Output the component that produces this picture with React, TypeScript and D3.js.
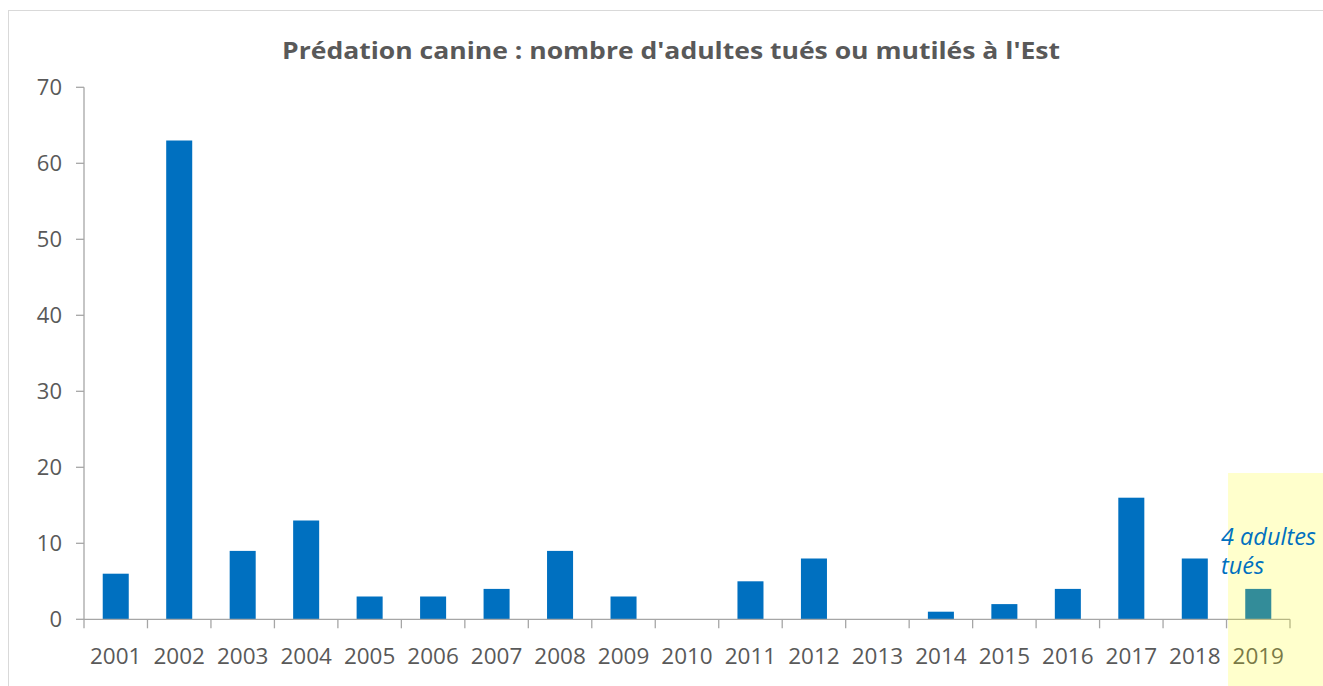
import React from "react";
import * as d3 from "d3";

const years = ["2001","2002","2003","2004","2005","2006","2007","2008","2009","2010","2011","2012","2013","2014","2015","2016","2017","2018","2019"];
const values = [6, 63, 9, 13, 3, 3, 4, 9, 3, 0, 5, 8, 0, 1, 2, 4, 16, 8, 4];
const yTicks = [0, 10, 20, 30, 40, 50, 60, 70];
const title = "Prédation canine : nombre d'adultes tués ou mutilés à l'Est";
const noteLines = ["4 adultes", "tués"];
const highlightYear = "2019";

const W = 1323, H = 686;
const left = 84, right = 1290, top = 87.3, bottom = 619.3;
const gray = "#595959";
const axisCol = "#A6A6A6";
const blue = "#0070C0";
const font = "'Open Sans', 'Liberation Sans', sans-serif";

export default function App() {
  const x = d3.scaleBand<string>().domain(years).range([left, right]).padding(0);
  const y = d3.scaleLinear().domain([0, 70]).range([bottom, top]);
  const bw = x.bandwidth() * 0.41;
  const hx = x(highlightYear)! + 1.5;

  return (
    <svg width={W} height={H} style={{ position: "absolute", left: 0, top: 0, background: "#fff" }}>
      <rect x={8.5} y={10.5} width={W} height={H} fill="#fff" stroke="#D9D9D9" strokeWidth={1} />
      <text x={671} y={59} textAnchor="middle" fontFamily={font} fontWeight="bold" fontSize={24} fill={gray}
        textLength={778} lengthAdjust="spacingAndGlyphs">{title}</text>
      {yTicks.map(t => (
        <g key={t}>
          <line x1={76} x2={left} y1={y(t)} y2={y(t)} stroke={axisCol} strokeWidth={1.3} />
          <text x={62} y={y(t) + 8} textAnchor="end" fontFamily={font} fontSize={22} fill={gray}>{t}</text>
        </g>
      ))}
      <line x1={left} x2={left} y1={top} y2={bottom} stroke={axisCol} strokeWidth={1.3} />
      {values.map((v, i) => (
        <rect key={years[i]} x={x(years[i])! + (x.bandwidth() - bw) / 2} y={y(v)} width={bw} height={y(0) - y(v)} fill={blue} />
      ))}
      <line x1={left} x2={right} y1={bottom} y2={bottom} stroke={axisCol} strokeWidth={1.3} />
      {years.map((yr, i) => (
        <line key={"t" + yr} x1={x(yr)!} x2={x(yr)!} y1={bottom} y2={bottom + 9} stroke={axisCol} strokeWidth={1.3} />
      ))}
      <line x1={right} x2={right} y1={bottom} y2={bottom + 9} stroke={axisCol} strokeWidth={1.3} />
      {years.map(yr => (
        <text key={"l" + yr} x={x(yr)! + x.bandwidth() / 2} y={664} textAnchor="middle" fontFamily={font} fontSize={22.5} fill={gray}>{yr}</text>
      ))}
      <rect x={hx} y={473} width={W - hx} height={H - 473} fill="#FFFF00" opacity={0.2} />
      {noteLines.map((s, i) => (
        <text key={s} x={1221} y={545 + i * 29} fontFamily={font} fontStyle="italic" fontSize={23.5} fill={blue}>{s}</text>
      ))}
    </svg>
  );
}
